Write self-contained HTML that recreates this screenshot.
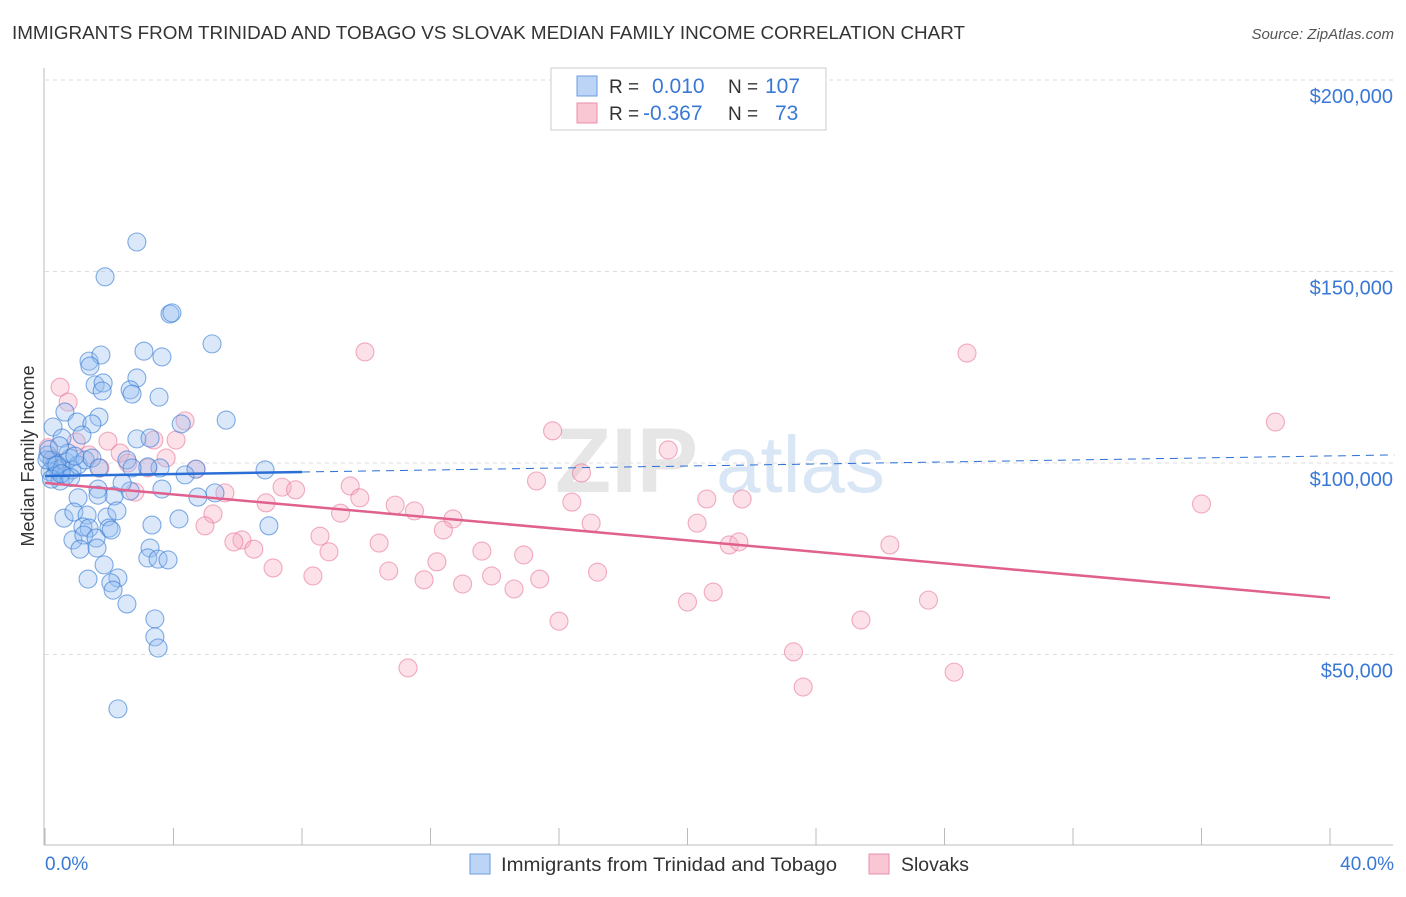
<!DOCTYPE html>
<html><head><meta charset="utf-8">
<style>
body{margin:0;background:#fff;font-family:"Liberation Sans",sans-serif;}
svg text{font-family:"Liberation Sans",sans-serif;}
</style></head>
<body>
<svg id="chart" width="1406" height="892" xmlns="http://www.w3.org/2000/svg">
<text x="12" y="39" font-size="18" fill="#333" textLength="953" lengthAdjust="spacingAndGlyphs">IMMIGRANTS FROM TRINIDAD AND TOBAGO VS SLOVAK MEDIAN FAMILY INCOME CORRELATION CHART</text>
<text x="1394" y="39" font-size="15" fill="#555" text-anchor="end" font-style="italic">Source: ZipAtlas.com</text>
<text x="555" y="492" font-size="92" fill="#e6e6e6" font-family="Liberation Serif" font-weight="bold">ZIP</text>
<text x="716" y="492" font-size="80" fill="#d8e6f5">atlas</text>
<g id="grid"></g>
<g id="axes"></g>
<g id="pinkPts"></g>
<g id="bluePts"></g>
<g id="trends"></g>
<text transform="translate(34,456) rotate(-90)" font-size="18" fill="#333" text-anchor="middle">Median Family Income</text>
<text x="45" y="870" font-size="19" fill="#3a78d6">0.0%</text>
<text x="1394" y="870" font-size="19" fill="#3a78d6" text-anchor="end">40.0%</text>
<g>
<rect x="551" y="68" width="275" height="62" fill="#fff" stroke="#ccc"/>
<rect x="577" y="76" width="20" height="20" fill="#bcd4f5" stroke="#6a9be0"/>
<rect x="577" y="103" width="20" height="20" fill="#f9c6d4" stroke="#eb8faa"/>
<text x="609" y="93" font-size="19" fill="#333">R = </text><text x="652" y="93" font-size="21" fill="#3a78d6">0.010</text>
<text x="728" y="93" font-size="19" fill="#333">N = </text><text x="765" y="93" font-size="21" fill="#3a78d6">107</text>
<text x="609" y="120" font-size="19" fill="#333">R = </text><text x="643" y="120" font-size="21" fill="#3a78d6">-0.367</text>
<text x="728" y="120" font-size="19" fill="#333">N = </text><text x="775" y="120" font-size="21" fill="#3a78d6">73</text>
</g>
<g>
<rect x="470" y="854" width="20" height="20" fill="#bcd4f5" stroke="#6a9be0"/>
<text x="501" y="871" font-size="19" fill="#333" textLength="336" lengthAdjust="spacingAndGlyphs">Immigrants from Trinidad and Tobago</text>
<rect x="869" y="854" width="20" height="20" fill="#f9c6d4" stroke="#eb8faa"/>
<text x="901" y="871" font-size="19" fill="#333" textLength="68" lengthAdjust="spacingAndGlyphs">Slovaks</text>
</g>
</svg>
<script>
const yTicks=[50000,100000,150000,200000];
const yTickLabels=["$50,000","$100,000","$150,000","$200,000"];
const xTicks=[0,4,8,12,16,20,24,28,32,36,40];
const blueX=[2.86,1.87,3.89,3.95,5.2,3.08,1.37,1.74,3.64,1.4,2.86,1.56,1.81,2.65,1.78,2.71,3.55,0.62,1.68,5.64,1.0,1.46,4.24,0.25,1.15,2.86,3.27,0.53,
0.09,0.22,0.31,0.4,0.53,0.65,0.78,0.16,0.31,0.47,0.62,0.84,1.03,1.25,1.46,1.68,0.72,0.93,0.06,0.37,0.2,0.5,
4.7,4.36,6.85,3.58,3.2,2.55,2.71,1.65,2.15,1.65,2.65,2.4,3.64,4.76,5.29,1.03,0.59,0.9,1.31,1.93,2.24,3.33,4.17,6.97,
1.18,1.37,1.99,2.06,0.87,1.21,1.59,1.62,1.09,3.27,3.2,3.52,3.83,1.84,1.34,2.27,2.05,2.12,2.55,3.42,3.42,3.52,2.27,0.12,0.45,0.8];
const blueY=[157.7,148.6,138.9,139.2,131.1,129.2,126.6,128.2,127.7,125.3,122.2,120.4,120.9,119.1,118.8,118,117.2,113.3,112,111.2,110.7,110.2,110.2,109.4,107.3,106.3,106.5,106.5,
102.1,100.8,99.5,98.2,98.7,100.3,101.3,97.7,96.6,95.3,96.6,98.2,99.5,100.8,101.3,98.7,102.6,101.8,100.8,99.5,95.8,97.2,
98.4,96.9,98.2,98.7,99,100.8,98.7,93.2,91.4,91.6,92.7,94.8,93.2,91.1,92.2,90.9,85.6,87.2,86.4,85.9,87.5,83.8,85.4,83.6,
83.3,83,83,82.5,79.9,81.2,80.4,77.8,77.5,77.8,75.2,74.9,74.7,73.4,69.7,70,68.7,66.8,63.2,59.3,54.6,51.7,35.8,103.5,104.5,96.2];
const pinkX=[0.47,0.72,9.96,28.7,38.3,4.36,15.8,1.96,3.39,4.08,0.97,19.4,3.77,2.34,1.37,1.71,2.58,3.2,4.7,16.7,15.3,9.5,7.38,7.8,2.8,5.6,9.8,6.88,16.4,20.6,21.7,10.9,11.5,9.2,36.0,5.23,12.7,12.4,4.98,17,20.3,8.56,6.13,5.88,10.4,21.3,21.6,26.3,6.5,8.84,13.6,14.9,12.2,7.1,10.7,17.2,8.34,13.9,15.4,11.8,13,14.6,20.8,20,27.5,16,25.4,23.3,11.3,28.3,23.6,0.1,0.3];
const pinkY=[119.8,115.9,129,128.7,110.7,111,108.4,105.7,106,106,105.5,103.4,101.3,102.6,102.1,98.7,100,98.7,98.4,97.4,95.3,94,93.7,93,92.4,92.2,90.9,89.6,89.8,90.6,90.6,89,87.5,86.9,89.3,86.7,85.4,82.5,83.6,84.3,84.3,80.9,79.9,79.4,79.1,78.6,79.4,78.6,77.5,76.8,77,76,74.2,72.6,71.8,71.5,70.5,70.5,69.7,69.5,68.4,67.1,66.3,63.7,64.2,58.7,59,50.7,46.5,45.4,41.5,104,100.5];
const blueTrend=[96.6,102.1];   // value (k$) at 0% and 42%
const pinkTrend=[94.8,64.8];    // value (k$) at 0% and 40%
const NS="http://www.w3.org/2000/svg";
function xs(p){return 45+p*(1330-45)/40;}
function ys(v){return 463-(v-100000)*191.5/50000;}
function mk(tag,attrs,parent){const e=document.createElementNS(NS,tag);for(const k in attrs)e.setAttribute(k,attrs[k]);parent.appendChild(e);return e;}
const grid=document.getElementById('grid'),axes=document.getElementById('axes');
yTicks.forEach((v,i)=>{
  const l=mk('line',{x1:45,x2:1393,y1:ys(v),y2:ys(v),stroke:'#ddd','stroke-dasharray':'4,4'},grid);
  
  
  const t=mk('text',{x:1393,y:ys(v)+23,'font-size':20,fill:'#3a78d6','text-anchor':'end'},grid);
  t.textContent=yTickLabels[i];
  
  
});
const ax=mk('line',{x1:44,x2:44,y1:68,y2:845,stroke:'#bbb'},axes);


const bx=mk('line',{x1:44,x2:1393,y1:845,y2:845,stroke:'#bbb'},axes);


xTicks.forEach(p=>{
  const t=mk('line',{x1:xs(p),x2:xs(p),y1:828,y2:845,stroke:'#bbb'},axes);
  
  
});
const pg=document.getElementById('pinkPts');
pinkX.forEach((p,i)=>{
  const c=mk('circle',{cx:xs(p),cy:ys(pinkY[i]*1000),r:9,fill:'rgba(246,170,192,0.35)',stroke:'rgba(232,120,155,0.6)','stroke-width':1.1},pg);
  
  
});
const bg=document.getElementById('bluePts');
blueX.forEach((p,i)=>{
  const c=mk('circle',{cx:xs(p),cy:ys(blueY[i]*1000),r:9,fill:'rgba(150,190,240,0.35)',stroke:'rgba(50,120,210,0.6)','stroke-width':1.1},bg);
  
  
});
const tg=document.getElementById('trends');
function bv(p){return blueTrend[0]+(blueTrend[1]-blueTrend[0])*p/42;}
const b1=mk('line',{x1:xs(0),y1:ys(bv(0)*1000),x2:xs(8),y2:ys(bv(8)*1000),stroke:'#2a6fd6','stroke-width':2.5},tg);


const b2=mk('line',{x1:xs(8),y1:ys(bv(8)*1000),x2:xs(42),y2:ys(bv(42)*1000),stroke:'#2a6fd6','stroke-width':1,'stroke-dasharray':'8,6'},tg);


const p1=mk('line',{x1:xs(0),y1:ys(pinkTrend[0]*1000),x2:xs(40),y2:ys(pinkTrend[1]*1000),stroke:'#e0608e','stroke-width':2.5},tg);


</script>
</body></html>
